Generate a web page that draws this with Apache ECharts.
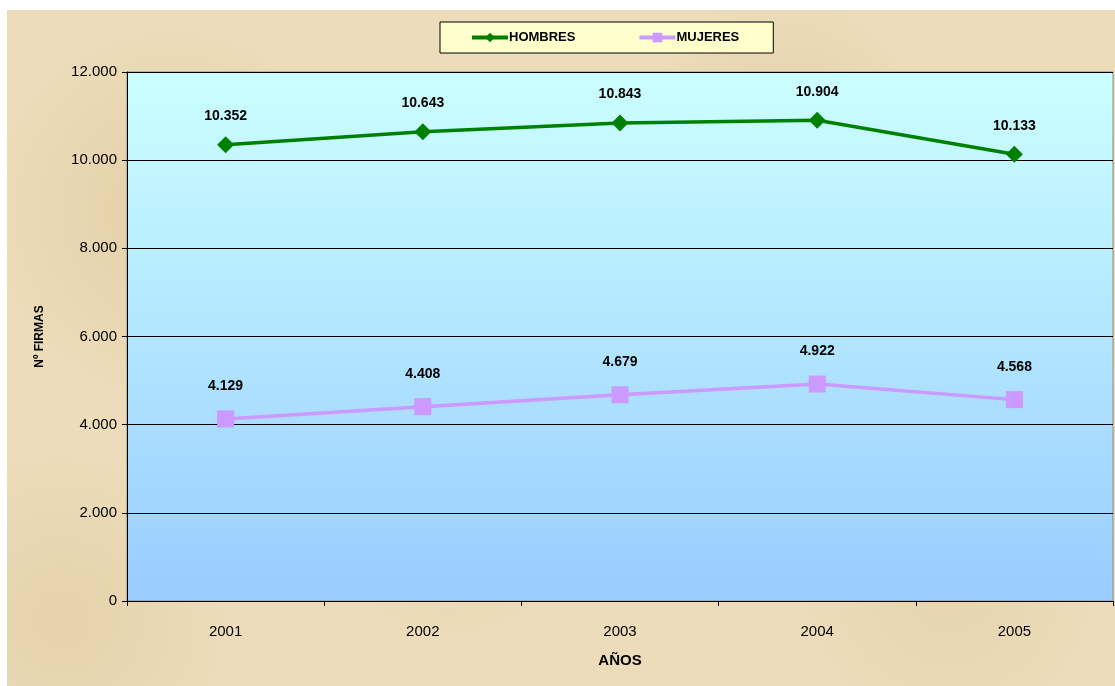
<!DOCTYPE html>
<html>
<head>
<meta charset="utf-8">
<script src="https://cdn.jsdelivr.net/npm/echarts@6/dist/echarts.min.js"></script>
<style>
  html, body { margin: 0; padding: 0; background: #fff; }
  #wrap { position: relative; width: 1115px; height: 686px; }
  #paper {
    position: absolute; left: 7px; top: 10px; right: 0; bottom: 0;
    background:
      radial-gradient(circle at 15% 30%, rgba(200,170,120,0.25), transparent 18%),
      radial-gradient(circle at 40% 75%, rgba(210,180,130,0.22), transparent 15%),
      radial-gradient(circle at 70% 20%, rgba(200,170,120,0.22), transparent 16%),
      radial-gradient(circle at 85% 85%, rgba(215,185,140,0.22), transparent 14%),
      radial-gradient(circle at 5% 90%, rgba(205,175,125,0.22), transparent 14%),
      #ecdcb9;
  }
  #chart { position: absolute; left: 0; top: 0; width: 1115px; height: 686px; }
</style>
</head>
<body>
<div id="wrap">
  <div id="paper"></div>
  <div id="chart"></div>
</div>
<script>
const years = ['2001', '2002', '2003', '2004', '2005']
const hombres = [10352, 10643, 10843, 10904, 10133]
const mujeres = [4129, 4408, 4679, 4922, 4568]

// 10352 -> "10.352"
function fmt(v) {
  return String(v).replace(/\B(?=(\d{3})+(?!\d))/g, '.')
}

const chart = echarts.init(document.getElementById('chart'))

chart.setOption({
  backgroundColor: 'transparent',
  animation: false,
  textStyle: { fontFamily: 'Liberation Sans, Arial, sans-serif' },
  legend: {
    left: 440,
    top: 22,
    padding: [9, 34, 9, 30],
    itemGap: 62,
    itemWidth: 36,
    itemHeight: 12,
    backgroundColor: '#ffffcc',
    borderColor: '#000',
    borderWidth: 1,
    borderRadius: 0,
    lineStyle: { width: 4 },
    textStyle: { fontSize: 13, fontWeight: 'bold', color: '#000', padding: [0, 0, 0, -4] },
    data: ['HOMBRES', 'MUJERES']
  },
  grid: {
    left: 127,
    right: 2,
    top: 72,
    bottom: 85,
    show: true,
    borderColor: '#888',
    borderWidth: 1,
    backgroundColor: {
      type: 'linear', x: 0, y: 0, x2: 0, y2: 1,
      colorStops: [
        { offset: 0, color: '#ccffff' },
        { offset: 1, color: '#99ccff' }
      ]
    }
  },
  xAxis: {
    type: 'category',
    data: years,
    boundaryGap: true,
    name: 'AÑOS',
    nameLocation: 'middle',
    nameGap: 52,
    nameTextStyle: { fontSize: 15, fontWeight: 'bold', color: '#000' },
    axisLine: { lineStyle: { color: '#000', width: 1 } },
    axisTick: { show: true, length: 5, lineStyle: { color: '#000' } },
    axisLabel: { fontSize: 15, color: '#000', margin: 23 }
  },
  yAxis: {
    type: 'value',
    min: 0,
    max: 12000,
    interval: 2000,
    name: 'Nº FIRMAS',
    nameLocation: 'middle',
    nameGap: 81,
    nameTextStyle: { fontSize: 12, fontWeight: 'bold', color: '#000' },
    axisLine: { show: true, lineStyle: { color: '#000', width: 1 } },
    axisTick: { show: true, length: 5, lineStyle: { color: '#000' } },
    axisLabel: { fontSize: 15, color: '#000', margin: 10, formatter: fmt },
    splitLine: { show: true, lineStyle: { color: '#000', width: 1 } }
  },
  series: [
    {
      name: 'HOMBRES',
      type: 'line',
      data: hombres,
      color: '#008000',
      lineStyle: { width: 3.5, color: '#008000' },
      symbol: 'diamond',
      symbolSize: 17,
      itemStyle: { color: '#008000' },
      label: {
        show: true,
        position: 'top',
        distance: 13,
        fontSize: 14,
        fontWeight: 'bold',
        color: '#000',
        formatter: p => fmt(p.value)
      }
    },
    {
      name: 'MUJERES',
      type: 'line',
      data: mujeres,
      color: '#cc99ff',
      lineStyle: { width: 3.5, color: '#cc99ff' },
      symbol: 'rect',
      symbolSize: 17,
      itemStyle: { color: '#cc99ff' },
      label: {
        show: true,
        position: 'top',
        distance: 17,
        fontSize: 14,
        fontWeight: 'bold',
        color: '#000',
        formatter: p => fmt(p.value)
      }
    }
  ]
})
</script>
</body>
</html>
